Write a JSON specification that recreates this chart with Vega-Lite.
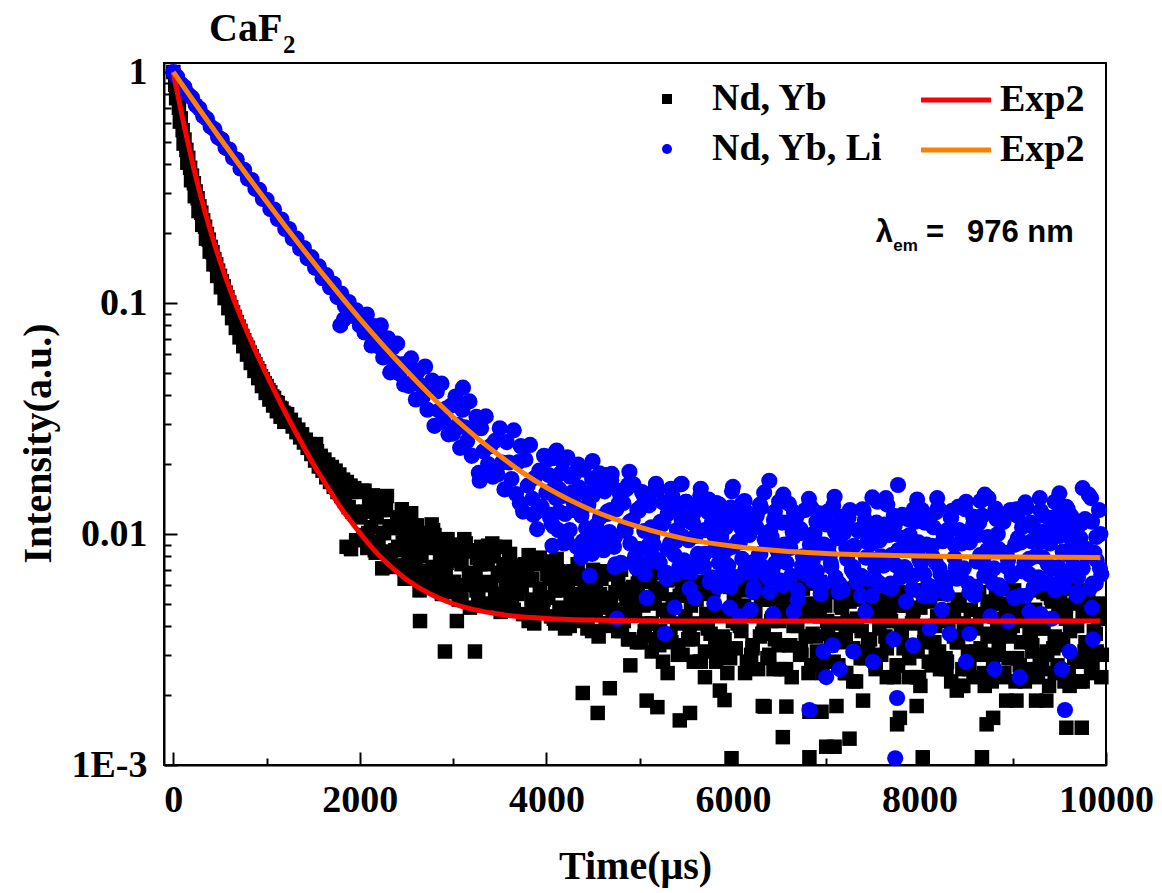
{
"$schema":"https://vega.github.io/schema/vega-lite/v6.json",
"width":942,"height":702,
"autosize":{"type":"none"},
"padding":{"left":164,"top":63,"right":56,"bottom":128},
"background":"white",
"config":{"view":{"stroke":"black","strokeWidth":2},
"axis":{"grid":false,"domainColor":"black","domainWidth":2,"tickColor":"black","tickWidth":2,"labelFont":"Liberation Serif","labelFontWeight":"bold","labelFontSize":38,"labelColor":"black","titleFont":"Liberation Serif","titleFontWeight":"bold","titleFontSize":40,"titleColor":"black"}},
"resolve":{"axis":{"x":"independent","y":"independent"}},
"datasets":{
"a":[{"t":0,"v":1},{"t":20,"v":0.88},{"t":40,"v":0.79},{"t":60,"v":0.7},{"t":80,"v":0.63},{"t":100,"v":0.56},{"t":120,"v":0.51},{"t":140,"v":0.46},{"t":160,"v":0.425},{"t":180,"v":0.385},{"t":200,"v":0.356},{"t":220,"v":0.33},{"t":240,"v":0.304},{"t":260,"v":0.284},{"t":280,"v":0.262},{"t":300,"v":0.246},{"t":320,"v":0.228},{"t":340,"v":0.214},{"t":360,"v":0.199},{"t":380,"v":0.188},{"t":400,"v":0.175},{"t":420,"v":0.166},{"t":440,"v":0.155},{"t":460,"v":0.147},{"t":480,"v":0.138},{"t":500,"v":0.131},{"t":520,"v":0.124},{"t":540,"v":0.118},{"t":560,"v":0.111},{"t":580,"v":0.106},{"t":600,"v":0.1005},{"t":620,"v":0.096},{"t":640,"v":0.091},{"t":660,"v":0.087},{"t":680,"v":0.0825},{"t":700,"v":0.079},{"t":720,"v":0.0757},{"t":740,"v":0.072},{"t":760,"v":0.069},{"t":780,"v":0.066},{"t":800,"v":0.064},{"t":820,"v":0.061},{"t":840,"v":0.0588},{"t":860,"v":0.0562},{"t":880,"v":0.0543},{"t":900,"v":0.0522},{"t":920,"v":0.0506},{"t":940,"v":0.0482},{"t":960,"v":0.0468},{"t":980,"v":0.0449},{"t":1000,"v":0.0437},{"t":1020,"v":0.042},{"t":1040,"v":0.041},{"t":1060,"v":0.0394},{"t":1080,"v":0.0388},{"t":1100,"v":0.0372},{"t":1120,"v":0.0369},{"t":1140,"v":0.0352},{"t":1160,"v":0.0349},{"t":1180,"v":0.0335},{"t":1200,"v":0.0331},
{"t":30,"v":0.77},{"t":70,"v":0.61},{"t":110,"v":0.49},{"t":150,"v":0.405},{"t":190,"v":0.34},{"t":230,"v":0.29},{"t":270,"v":0.25},{"t":310,"v":0.218},{"t":350,"v":0.19},{"t":390,"v":0.167},{"t":430,"v":0.147},{"t":470,"v":0.131},{"t":510,"v":0.117},{"t":550,"v":0.105},{"t":590,"v":0.095},{"t":630,"v":0.086},{"t":670,"v":0.078},{"t":710,"v":0.071},{"t":750,"v":0.065},{"t":790,"v":0.0598},{"t":830,"v":0.055},{"t":870,"v":0.0508},{"t":910,"v":0.0473},{"t":950,"v":0.0437},{"t":990,"v":0.0408},{"t":1030,"v":0.0382},{"t":1070,"v":0.036},{"t":1110,"v":0.034},{"t":1150,"v":0.0322},{"t":1190,"v":0.0306},
{"t":1220,"v":0.033},{"t":1240,"v":0.0308},{"t":1260,"v":0.0312},{"t":1280,"v":0.0292},{"t":1300,"v":0.0297},{"t":1320,"v":0.0276},{"t":1340,"v":0.0283},{"t":1360,"v":0.0262},{"t":1380,"v":0.027},{"t":1400,"v":0.0249},{"t":1420,"v":0.0256},{"t":1440,"v":0.0236},{"t":1460,"v":0.0245},{"t":1480,"v":0.0222},{"t":1500,"v":0.0236},{"t":1520,"v":0.0208},{"t":1540,"v":0.0228},{"t":1560,"v":0.0196},{"t":1580,"v":0.0218},{"t":1600,"v":0.0188},{"t":1620,"v":0.021},{"t":1640,"v":0.0176},{"t":1660,"v":0.02},{"t":1680,"v":0.0168},{"t":1700,"v":0.0195},{"t":1720,"v":0.016},{"t":1740,"v":0.0188},{"t":1760,"v":0.0152},{"t":1780,"v":0.0181},{"t":1800,"v":0.0146},{"t":1820,"v":0.0172},{"t":1840,"v":0.0139},{"t":1860,"v":0.0168},{"t":1880,"v":0.0131},{"t":1900,"v":0.0162},{"t":1920,"v":0.0125},{"t":1940,"v":0.0158},{"t":1960,"v":0.0121},{"t":1980,"v":0.0152},{"t":2000,"v":0.0118},{"t":1530,"v":0.0245},{"t":1858,"v":0.0088},{"t":1905,"v":0.0086},{"t":1960,"v":0.0094},
{"t":2020,"v":0.0154},{"t":2040,"v":0.0099},{"t":2060,"v":0.0125},{"t":2080,"v":0.0087},{"t":2100,"v":0.0136},{"t":2120,"v":0.0107},{"t":2140,"v":0.0147},{"t":2160,"v":0.0085},{"t":2180,"v":0.0118},{"t":2200,"v":0.0092},{"t":2220,"v":0.0127},{"t":2240,"v":0.0071},{"t":2260,"v":0.0101},{"t":2280,"v":0.0127},{"t":2300,"v":0.0083},{"t":2320,"v":0.0108},{"t":2340,"v":0.0072},{"t":2360,"v":0.0108},{"t":2380,"v":0.0085},{"t":2400,"v":0.0118},{"t":2420,"v":0.0113},{"t":2440,"v":0.0073},{"t":2460,"v":0.0092},{"t":2480,"v":0.0064},{"t":2500,"v":0.0101},{"t":2520,"v":0.0081},{"t":2540,"v":0.0112},{"t":2560,"v":0.0066},{"t":2580,"v":0.0091},{"t":2600,"v":0.0072},{"t":2620,"v":0.0099},{"t":2640,"v":0.0057},{"t":2660,"v":0.008},{"t":2680,"v":0.0101},{"t":2700,"v":0.0067},{"t":2720,"v":0.0087},{"t":2740,"v":0.0059},{"t":2760,"v":0.0089},{"t":2780,"v":0.007},{"t":2800,"v":0.0099},{"t":2820,"v":0.0094},{"t":2840,"v":0.0062},{"t":2860,"v":0.0078},{"t":2880,"v":0.0055},{"t":2900,"v":0.0086},{"t":2920,"v":0.0069},{"t":2940,"v":0.0095},{"t":2960,"v":0.0056},{"t":2980,"v":0.0078},{"t":3000,"v":0.0062},{"t":2645,"v":0.0042},{"t":2912,"v":0.0031},{"t":3040,"v":0.0042},{"t":3234,"v":0.0031},{"t":2550,"v":0.0123},{"t":3375,"v":0.0089},{"t":2785,"v":0.0104},
{"t":3030,"v":0.0085},{"t":3060,"v":0.0052},{"t":3090,"v":0.0074},{"t":3120,"v":0.0095},{"t":3150,"v":0.006},{"t":3180,"v":0.0048},{"t":3210,"v":0.0085},{"t":3240,"v":0.0067},{"t":3270,"v":0.0054},{"t":3300,"v":0.0088},{"t":3330,"v":0.0062},{"t":3360,"v":0.0074},{"t":3390,"v":0.005},{"t":3420,"v":0.0091},{"t":3450,"v":0.0054},{"t":3480,"v":0.0068},{"t":3510,"v":0.0046},{"t":3540,"v":0.0074},{"t":3570,"v":0.006},{"t":3600,"v":0.008},{"t":3630,"v":0.0049},{"t":3660,"v":0.0063},{"t":3690,"v":0.0055},{"t":3720,"v":0.0073},{"t":3750,"v":0.0045},{"t":3780,"v":0.0063},{"t":3810,"v":0.0081},{"t":3840,"v":0.0052},{"t":3870,"v":0.0041},{"t":3900,"v":0.0074},{"t":3930,"v":0.0058},{"t":3960,"v":0.0047},{"t":3990,"v":0.0076},{"t":4020,"v":0.0053},{"t":4050,"v":0.0064},{"t":4080,"v":0.0043},{"t":4110,"v":0.0078},{"t":4140,"v":0.0047},{"t":4170,"v":0.006},{"t":4200,"v":0.0039},{"t":4230,"v":0.0063},{"t":4260,"v":0.0052},{"t":4290,"v":0.0069},{"t":4320,"v":0.0042},{"t":4350,"v":0.0055},{"t":4380,"v":0.0047},{"t":4410,"v":0.0063},{"t":4440,"v":0.0039},{"t":4470,"v":0.0054},{"t":4500,"v":0.007},{"t":4530,"v":0.0045},{"t":4560,"v":0.0036},{"t":4590,"v":0.0064},{"t":4620,"v":0.005},{"t":4650,"v":0.0041},{"t":4680,"v":0.0067},{"t":4710,"v":0.0047},{"t":4740,"v":0.0056},{"t":4770,"v":0.0038},{"t":4800,"v":0.007},{"t":4830,"v":0.0042},{"t":4860,"v":0.0052},{"t":4890,"v":0.0035},{"t":4920,"v":0.0056},{"t":4950,"v":0.0046},{"t":4980,"v":0.0061},
{"t":5010,"v":0.0034},{"t":5040,"v":0.0049},{"t":5070,"v":0.0041},{"t":5100,"v":0.0062},{"t":5130,"v":0.0031},{"t":5160,"v":0.005},{"t":5190,"v":0.0068},{"t":5220,"v":0.0038},{"t":5250,"v":0.0028},{"t":5280,"v":0.0065},{"t":5310,"v":0.0045},{"t":5340,"v":0.0034},{"t":5370,"v":0.0064},{"t":5400,"v":0.0041},{"t":5430,"v":0.0054},{"t":5460,"v":0.003},{"t":5490,"v":0.0069},{"t":5520,"v":0.0035},{"t":5550,"v":0.0049},{"t":5580,"v":0.0028},{"t":5610,"v":0.0055},{"t":5640,"v":0.0041},{"t":5670,"v":0.0062},{"t":5700,"v":0.0031},{"t":5730,"v":0.0045},{"t":5760,"v":0.0037},{"t":5790,"v":0.0057},{"t":5820,"v":0.0028},{"t":5850,"v":0.0046},{"t":5880,"v":0.0064},{"t":5910,"v":0.0035},{"t":5940,"v":0.0025},{"t":5970,"v":0.0059},{"t":6000,"v":0.0042},{"t":6030,"v":0.0032},{"t":6060,"v":0.0061},{"t":6090,"v":0.0038},{"t":6120,"v":0.0049},{"t":6150,"v":0.0028},{"t":6180,"v":0.0063},{"t":6210,"v":0.0033},{"t":6240,"v":0.0046},{"t":6270,"v":0.0026},{"t":6300,"v":0.0052},{"t":6330,"v":0.0039},{"t":6360,"v":0.0059},{"t":6390,"v":0.003},{"t":6420,"v":0.0043},{"t":6450,"v":0.0035},{"t":6480,"v":0.0053},{"t":6510,"v":0.0026},{"t":6540,"v":0.0044},{"t":6570,"v":0.006},{"t":6600,"v":0.0033},{"t":6630,"v":0.0024},{"t":6660,"v":0.0057},{"t":6690,"v":0.004},{"t":6720,"v":0.003},{"t":6750,"v":0.0058},{"t":6780,"v":0.0036},{"t":6810,"v":0.0047},{"t":6840,"v":0.0027},{"t":6870,"v":0.0061},{"t":6900,"v":0.0031},{"t":6930,"v":0.0044},{"t":6960,"v":0.0025},{"t":6990,"v":0.0049},{"t":7020,"v":0.0037},{"t":7050,"v":0.0056},{"t":7080,"v":0.0028},{"t":7110,"v":0.0041},{"t":7140,"v":0.0034},{"t":7170,"v":0.0051},{"t":7200,"v":0.0025},{"t":7230,"v":0.0042},{"t":7260,"v":0.0058},{"t":7290,"v":0.0032},{"t":7320,"v":0.0023},{"t":7350,"v":0.0054},{"t":7380,"v":0.0038},{"t":7410,"v":0.0029},{"t":7440,"v":0.0056},{"t":7470,"v":0.0035},{"t":7500,"v":0.0046},{"t":7530,"v":0.0026},{"t":7560,"v":0.006},{"t":7590,"v":0.003},{"t":7620,"v":0.0043},{"t":7650,"v":0.0024},{"t":7680,"v":0.0047},{"t":7710,"v":0.0035},{"t":7740,"v":0.0053},{"t":7770,"v":0.0027},{"t":7800,"v":0.0039},{"t":7830,"v":0.0032},{"t":7860,"v":0.0049},{"t":7890,"v":0.0024},{"t":7920,"v":0.0041},{"t":7950,"v":0.0057},{"t":7980,"v":0.0031},{"t":8010,"v":0.0022},{"t":8040,"v":0.0052},{"t":8070,"v":0.0037},{"t":8100,"v":0.0028},{"t":8130,"v":0.0055},{"t":8160,"v":0.0034},{"t":8190,"v":0.0044},{"t":8220,"v":0.0026},{"t":8250,"v":0.0059},{"t":8280,"v":0.0029},{"t":8310,"v":0.0042},{"t":8340,"v":0.0023},{"t":8370,"v":0.0047},{"t":8400,"v":0.0034},{"t":8430,"v":0.0052},{"t":8460,"v":0.0026},{"t":8490,"v":0.0038},{"t":8520,"v":0.0031},{"t":8550,"v":0.0047},{"t":8580,"v":0.0024},{"t":8610,"v":0.0039},{"t":8640,"v":0.0056},{"t":8670,"v":0.003},{"t":8700,"v":0.0022},{"t":8730,"v":0.0051},{"t":8760,"v":0.0036},{"t":8790,"v":0.0027},{"t":8820,"v":0.0054},{"t":8850,"v":0.0033},{"t":8880,"v":0.0043},{"t":8910,"v":0.0025},{"t":8940,"v":0.0058},{"t":8970,"v":0.0029},{"t":9000,"v":0.004},{"t":9030,"v":0.0023},{"t":9060,"v":0.0045},{"t":9090,"v":0.0034},{"t":9120,"v":0.0052},{"t":9150,"v":0.0026},{"t":9180,"v":0.0038},{"t":9210,"v":0.0031},{"t":9240,"v":0.0047},{"t":9270,"v":0.0024},{"t":9300,"v":0.0039},{"t":9330,"v":0.0056},{"t":9360,"v":0.003},{"t":9390,"v":0.0022},{"t":9420,"v":0.0051},{"t":9450,"v":0.0036},{"t":9480,"v":0.0027},{"t":9510,"v":0.0054},{"t":9540,"v":0.0033},{"t":9570,"v":0.0043},{"t":9600,"v":0.0025},{"t":9630,"v":0.0058},{"t":9660,"v":0.0029},{"t":9690,"v":0.004},{"t":9720,"v":0.0023},{"t":9750,"v":0.0045},{"t":9780,"v":0.0034},{"t":9810,"v":0.0052},{"t":9840,"v":0.0026},{"t":9870,"v":0.0038},{"t":9900,"v":0.0031},{"t":9930,"v":0.0047},{"t":9950,"v":0.0024},
{"t":3015,"v":0.0077},{"t":3075,"v":0.0055},{"t":3135,"v":0.0091},{"t":3195,"v":0.0063},{"t":3255,"v":0.0079},{"t":3315,"v":0.0049},{"t":3435,"v":0.008},{"t":3495,"v":0.0055},{"t":3555,"v":0.0088},{"t":3615,"v":0.0051},{"t":3675,"v":0.0069},{"t":3735,"v":0.0058},{"t":3795,"v":0.0065},{"t":3855,"v":0.0047},{"t":3915,"v":0.0078},{"t":3975,"v":0.0053},{"t":4035,"v":0.0066},{"t":4095,"v":0.0041},{"t":4155,"v":0.0057},{"t":4215,"v":0.0068},{"t":4275,"v":0.0046},{"t":4335,"v":0.0074},{"t":4395,"v":0.0043},{"t":4455,"v":0.0059},{"t":4515,"v":0.0049},{"t":4575,"v":0.0055},{"t":4635,"v":0.004},{"t":4695,"v":0.0067},{"t":4755,"v":0.0045},{"t":4815,"v":0.0058},{"t":4875,"v":0.0035},{"t":4935,"v":0.005},{"t":4995,"v":0.0065},{"t":5055,"v":0.0038},{"t":5115,"v":0.0066},{"t":5175,"v":0.0035},{"t":5235,"v":0.0055},{"t":5295,"v":0.0044},{"t":5355,"v":0.0052},{"t":5415,"v":0.0033},{"t":5475,"v":0.0063},{"t":5535,"v":0.0039},{"t":5595,"v":0.0055},{"t":5655,"v":0.0028},{"t":5715,"v":0.0045},{"t":5775,"v":0.0059},{"t":5835,"v":0.0034},{"t":5895,"v":0.0066},{"t":5955,"v":0.0032},{"t":6015,"v":0.005},{"t":6075,"v":0.004},{"t":6135,"v":0.0047},{"t":6195,"v":0.003},{"t":6255,"v":0.006},{"t":6315,"v":0.0037},{"t":6375,"v":0.0052},{"t":6435,"v":0.0026},{"t":6495,"v":0.0042},{"t":6555,"v":0.0055},{"t":6615,"v":0.0033},{"t":6675,"v":0.0063},{"t":6735,"v":0.003},{"t":6795,"v":0.0047},{"t":6855,"v":0.0037},{"t":6915,"v":0.0045},{"t":6975,"v":0.0028},{"t":7035,"v":0.0059},{"t":7095,"v":0.0035},{"t":7155,"v":0.0049},{"t":7215,"v":0.0025},{"t":7275,"v":0.004},{"t":7335,"v":0.0052},{"t":7395,"v":0.0031},{"t":7455,"v":0.006},{"t":7515,"v":0.0029},{"t":7575,"v":0.0046},{"t":7635,"v":0.0036},{"t":7695,"v":0.0042},{"t":7755,"v":0.0027},{"t":7815,"v":0.0056},{"t":7875,"v":0.0033},{"t":7935,"v":0.0047},{"t":7995,"v":0.0024},{"t":8055,"v":0.0039},{"t":8115,"v":0.0051},{"t":8175,"v":0.003},{"t":8235,"v":0.0058},{"t":8295,"v":0.0028},{"t":8355,"v":0.0044},{"t":8415,"v":0.0034},{"t":8475,"v":0.0041},{"t":8535,"v":0.0026},{"t":8595,"v":0.0055},{"t":8655,"v":0.0032},{"t":8715,"v":0.0045},{"t":8775,"v":0.0023},{"t":8835,"v":0.0038},{"t":8895,"v":0.005},{"t":8955,"v":0.0029},{"t":9015,"v":0.0057},{"t":9075,"v":0.0027},{"t":9135,"v":0.0043},{"t":9195,"v":0.0034},{"t":9255,"v":0.0041},{"t":9315,"v":0.0026},{"t":9375,"v":0.0055},{"t":9435,"v":0.0032},{"t":9495,"v":0.0045},{"t":9555,"v":0.0023},{"t":9615,"v":0.0038},{"t":9675,"v":0.005},{"t":9735,"v":0.0029},{"t":9795,"v":0.0057},{"t":9855,"v":0.0027},{"t":9915,"v":0.0043},
{"t":2010,"v":0.0124},{"t":2050,"v":0.0154},{"t":2090,"v":0.0101},{"t":2130,"v":0.013},{"t":2170,"v":0.0083},{"t":2210,"v":0.0133},{"t":2250,"v":0.0101},{"t":2290,"v":0.0146},{"t":2330,"v":0.0084},{"t":2370,"v":0.0106},{"t":2410,"v":0.0088},{"t":2450,"v":0.0128},{"t":2490,"v":0.0073},{"t":2530,"v":0.0108},{"t":2570,"v":0.0089},{"t":2610,"v":0.0109},{"t":2650,"v":0.0061},{"t":2690,"v":0.0092},{"t":2730,"v":0.0069},{"t":2770,"v":0.011},{"t":2810,"v":0.0072},{"t":2850,"v":0.009},{"t":2890,"v":0.006},{"t":2930,"v":0.0075},{"t":2970,"v":0.009},{"t":3010,"v":0.0062},{"t":3050,"v":0.0077},{"t":3090,"v":0.0052},{"t":3130,"v":0.0084},{"t":3170,"v":0.0068},{"t":3210,"v":0.0085},{"t":3250,"v":0.0057},{"t":3290,"v":0.0074},{"t":3330,"v":0.0049},{"t":3370,"v":0.0078},{"t":3410,"v":0.006},{"t":3450,"v":0.0088},{"t":3490,"v":0.0051},{"t":3530,"v":0.0066},{"t":3570,"v":0.0055},{"t":3610,"v":0.0082},{"t":3650,"v":0.0047},{"t":3690,"v":0.0071},{"t":3730,"v":0.0059},{"t":3770,"v":0.0074},{"t":3810,"v":0.0042},{"t":3850,"v":0.0064},{"t":3890,"v":0.0049},{"t":3930,"v":0.0079},{"t":3970,"v":0.0052},{"t":4010,"v":0.0067},{"t":4050,"v":0.0044},{"t":4090,"v":0.0057},{"t":4130,"v":0.0069},{"t":4170,"v":0.0048},{"t":4210,"v":0.0059},{"t":4250,"v":0.004},{"t":4290,"v":0.0064},{"t":4330,"v":0.0053},{"t":4370,"v":0.0066},{"t":4410,"v":0.0044},{"t":4450,"v":0.0058},{"t":4490,"v":0.0038},{"t":4530,"v":0.0061},{"t":4570,"v":0.0048},{"t":4610,"v":0.0069},{"t":4650,"v":0.0041},{"t":4690,"v":0.0053},{"t":4730,"v":0.0044},{"t":4770,"v":0.0064},{"t":4810,"v":0.0038},{"t":4850,"v":0.0055},{"t":4890,"v":0.0047},{"t":4930,"v":0.0059},{"t":4970,"v":0.0034},{"t":5010,"v":0.0053},{"t":5050,"v":0.0036},{"t":5090,"v":0.0066},{"t":5130,"v":0.0041},{"t":5170,"v":0.0058},{"t":5210,"v":0.0033},{"t":5250,"v":0.0047},{"t":5290,"v":0.0063},{"t":5330,"v":0.0037},{"t":5370,"v":0.0052},{"t":5410,"v":0.003},{"t":5450,"v":0.0059},{"t":5490,"v":0.0044},{"t":5530,"v":0.0062},{"t":5570,"v":0.0035},{"t":5610,"v":0.0052},{"t":5650,"v":0.0028},{"t":5690,"v":0.0055},{"t":5730,"v":0.0039},{"t":5770,"v":0.0062},{"t":5810,"v":0.0032},{"t":5850,"v":0.0045},{"t":5890,"v":0.0036},{"t":5930,"v":0.0062},{"t":5970,"v":0.0029},{"t":6010,"v":0.0052},{"t":6050,"v":0.0041},{"t":6090,"v":0.0057},{"t":6130,"v":0.0025},{"t":6170,"v":0.0046},{"t":6210,"v":0.0032},{"t":6250,"v":0.0064},{"t":6290,"v":0.0036},{"t":6330,"v":0.0052},{"t":6370,"v":0.0029},{"t":6410,"v":0.0042},{"t":6450,"v":0.0055},{"t":6490,"v":0.0033},{"t":6530,"v":0.0046},{"t":6570,"v":0.0026},{"t":6610,"v":0.0053},{"t":6650,"v":0.004},{"t":6690,"v":0.0057},{"t":6730,"v":0.0032},{"t":6770,"v":0.0046},{"t":6810,"v":0.0025},{"t":6850,"v":0.005},{"t":6890,"v":0.0036},{"t":6930,"v":0.0062},{"t":6970,"v":0.0029},{"t":7010,"v":0.0042},{"t":7050,"v":0.0033},{"t":7090,"v":0.0058},{"t":7130,"v":0.0027},{"t":7170,"v":0.0048},{"t":7210,"v":0.0037},{"t":7250,"v":0.0051},{"t":7290,"v":0.0023},{"t":7330,"v":0.0043},{"t":7370,"v":0.0029},{"t":7410,"v":0.0059},{"t":7450,"v":0.0033},{"t":7490,"v":0.0048},{"t":7530,"v":0.0027},{"t":7570,"v":0.0039},{"t":7610,"v":0.0052},{"t":7650,"v":0.0032},{"t":7690,"v":0.0042},{"t":7730,"v":0.0024},{"t":7770,"v":0.0049},{"t":7810,"v":0.0037},{"t":7850,"v":0.0052},{"t":7890,"v":0.0029},{"t":7930,"v":0.0043},{"t":7970,"v":0.0024},{"t":8010,"v":0.0048},{"t":8050,"v":0.0034},{"t":8090,"v":0.0059},{"t":8130,"v":0.0027},{"t":8170,"v":0.004},{"t":8210,"v":0.0031},{"t":8250,"v":0.0055},{"t":8290,"v":0.0026},{"t":8330,"v":0.0046},{"t":8370,"v":0.0036},{"t":8410,"v":0.0049},{"t":8450,"v":0.0022},{"t":8490,"v":0.004},{"t":8530,"v":0.0028},{"t":8570,"v":0.0056},{"t":8610,"v":0.0031},{"t":8650,"v":0.0045},{"t":8690,"v":0.0025},{"t":8730,"v":0.0037},{"t":8770,"v":0.005},{"t":8810,"v":0.003},{"t":8850,"v":0.0041},{"t":8890,"v":0.0024},{"t":8930,"v":0.0047},{"t":8970,"v":0.0036},{"t":9010,"v":0.0051},{"t":9050,"v":0.0029},{"t":9090,"v":0.0042},{"t":9130,"v":0.0023},{"t":9170,"v":0.0046},{"t":9210,"v":0.0033},{"t":9250,"v":0.0057},{"t":9290,"v":0.0027},{"t":9330,"v":0.0039},{"t":9370,"v":0.0031},{"t":9410,"v":0.0053},{"t":9450,"v":0.0025},{"t":9490,"v":0.0044},{"t":9530,"v":0.0035},{"t":9570,"v":0.0049},{"t":9610,"v":0.0022},{"t":9650,"v":0.004},{"t":9690,"v":0.0028},{"t":9730,"v":0.0056},{"t":9770,"v":0.0031},{"t":9810,"v":0.0045},{"t":9850,"v":0.0025},{"t":9890,"v":0.0037},{"t":9930,"v":0.005},{"t":9955,"v":0.003},
{"t":4390,"v":0.00205},{"t":4550,"v":0.00168},{"t":4680,"v":0.00215},{"t":5075,"v":0.0019},{"t":5190,"v":0.00178},{"t":5430,"v":0.00156},{"t":5540,"v":0.00168},{"t":5910,"v":0.00191},{"t":5985,"v":0.00107},{"t":6340,"v":0.00179},{"t":6573,"v":0.00179},{"t":6535,"v":0.00132},{"t":6320,"v":0.0018},{"t":6820,"v":0.0017},{"t":6950,"v":0.0017},{"t":6820,"v":0.00108},{"t":7000,"v":0.0012},{"t":7090,"v":0.0012},{"t":7110,"v":0.0018},{"t":7395,"v":0.0019},{"t":7760,"v":0.0015},{"t":7790,"v":0.0016},{"t":7970,"v":0.0018},{"t":8035,"v":0.00108},{"t":8400,"v":0.0021},{"t":8470,"v":0.0022},{"t":8670,"v":0.00108},{"t":8720,"v":0.0015},{"t":8790,"v":0.0016},{"t":8930,"v":0.0019},{"t":9040,"v":0.0019},{"t":9250,"v":0.0019},{"t":9360,"v":0.0019},{"t":9575,"v":0.00145},{"t":9740,"v":0.00145},{"t":9610,"v":0.0023},{"t":9750,"v":0.0023},{"t":4900,"v":0.0027},{"t":5300,"v":0.0025},{"t":5700,"v":0.0024},{"t":7250,"v":0.0013},{"t":5860,"v":0.0021}],
"b":[{"t":0,"v":1},{"t":40,"v":0.955},{"t":80,"v":0.89},{"t":120,"v":0.86},{"t":160,"v":0.8},{"t":200,"v":0.775},{"t":240,"v":0.72},{"t":280,"v":0.695},{"t":320,"v":0.645},{"t":360,"v":0.627},{"t":400,"v":0.58},{"t":440,"v":0.565},{"t":480,"v":0.522},{"t":520,"v":0.51},{"t":560,"v":0.47},{"t":600,"v":0.462},{"t":640,"v":0.425},{"t":680,"v":0.418},{"t":720,"v":0.382},{"t":760,"v":0.377},{"t":800,"v":0.345},{"t":840,"v":0.341},{"t":880,"v":0.312},{"t":920,"v":0.309},{"t":960,"v":0.282},{"t":1000,"v":0.28},{"t":1040,"v":0.255},{"t":1080,"v":0.254},{"t":1120,"v":0.231},{"t":1160,"v":0.23},{"t":1200,"v":0.209},{"t":1240,"v":0.209},{"t":1280,"v":0.19},{"t":1320,"v":0.19},{"t":1360,"v":0.172},{"t":1400,"v":0.173},{"t":1440,"v":0.156},{"t":1480,"v":0.158},{"t":1520,"v":0.142},{"t":1560,"v":0.144},{"t":1600,"v":0.128},{"t":1640,"v":0.132},{"t":1680,"v":0.117},{"t":1720,"v":0.121},{"t":1760,"v":0.106},{"t":1800,"v":0.11},{"t":1840,"v":0.097},{"t":1880,"v":0.101},{"t":1920,"v":0.088},{"t":1960,"v":0.093},{"t":2000,"v":0.08},{"t":1790,"v":0.08},{"t":1830,"v":0.085},
{"t":2025,"v":0.0873},{"t":2050,"v":0.0745},{"t":2075,"v":0.0892},{"t":2100,"v":0.0755},{"t":2125,"v":0.0655},{"t":2150,"v":0.0795},{"t":2175,"v":0.0712},{"t":2200,"v":0.0649},{"t":2225,"v":0.08},{"t":2250,"v":0.0581},{"t":2275,"v":0.0665},{"t":2300,"v":0.0704},{"t":2325,"v":0.0501},{"t":2350,"v":0.064},{"t":2375,"v":0.0551},{"t":2400,"v":0.0667},{"t":2425,"v":0.0495},{"t":2450,"v":0.0543},{"t":2475,"v":0.0444},{"t":2500,"v":0.0546},{"t":2525,"v":0.0438},{"t":2550,"v":0.0576},{"t":2575,"v":0.0459},{"t":2600,"v":0.0382},{"t":2625,"v":0.0508},{"t":2650,"v":0.0441},{"t":2675,"v":0.0392},{"t":2700,"v":0.0531},{"t":2725,"v":0.0345},{"t":2750,"v":0.0421},{"t":2775,"v":0.0462},{"t":2800,"v":0.0294},{"t":2825,"v":0.0414},{"t":2850,"v":0.0342},{"t":2875,"v":0.0448},{"t":2900,"v":0.0304},{"t":2925,"v":0.0349},{"t":2950,"v":0.027},{"t":2975,"v":0.0359},{"t":3000,"v":0.0272},{"t":3025,"v":0.0394},{"t":3050,"v":0.0297},{"t":3075,"v":0.0236},{"t":3100,"v":0.0345},{"t":3125,"v":0.029},{"t":3150,"v":0.0252},{"t":3175,"v":0.0375},{"t":3200,"v":0.0218},{"t":3225,"v":0.0285},{"t":3250,"v":0.0322},{"t":3275,"v":0.0184},{"t":3300,"v":0.0287},{"t":3325,"v":0.0228},{"t":3350,"v":0.0323},{"t":3375,"v":0.0201},{"t":3400,"v":0.024},{"t":3425,"v":0.0177},{"t":3450,"v":0.0253},{"t":3475,"v":0.0181},{"t":3500,"v":0.0287},{"t":3525,"v":0.0204},{"t":3550,"v":0.0156},{"t":3575,"v":0.025},{"t":3600,"v":0.0204},{"t":3625,"v":0.0173},{"t":3650,"v":0.0281},{"t":3675,"v":0.0149},{"t":3700,"v":0.0205},{"t":3725,"v":0.024},{"t":3750,"v":0.0125},{"t":3775,"v":0.021},{"t":3800,"v":0.0162},{"t":3825,"v":0.0243},{"t":3850,"v":0.0142},{"t":3875,"v":0.0175},{"t":3900,"v":0.0125},{"t":3925,"v":0.0188},{"t":3950,"v":0.0131},{"t":3975,"v":0.0218},{"t":4000,"v":0.0151},
{"t":4025,"v":0.018},{"t":4050,"v":0.0121},{"t":4075,"v":0.0213},{"t":4100,"v":0.0143},{"t":4125,"v":0.0104},{"t":4150,"v":0.0183},{"t":4175,"v":0.0146},{"t":4200,"v":0.0122},{"t":4225,"v":0.0215},{"t":4250,"v":0.0104},{"t":4275,"v":0.0151},{"t":4300,"v":0.0182},{"t":4325,"v":0.0088},{"t":4350,"v":0.0159},{"t":4375,"v":0.012},{"t":4400,"v":0.019},{"t":4425,"v":0.0106},{"t":4450,"v":0.0134},{"t":4475,"v":0.0093},{"t":4500,"v":0.0147},{"t":4525,"v":0.0099},{"t":4550,"v":0.0176},{"t":4575,"v":0.0118},{"t":4600,"v":0.0087},{"t":4625,"v":0.0153},{"t":4650,"v":0.0122},{"t":4675,"v":0.0102},{"t":4700,"v":0.0182},{"t":4725,"v":0.0088},{"t":4750,"v":0.0128},{"t":4775,"v":0.0154},{"t":4800,"v":0.0075},{"t":4825,"v":0.0136},{"t":4850,"v":0.0103},{"t":4875,"v":0.0163},{"t":4900,"v":0.0091},{"t":4925,"v":0.0115},{"t":4950,"v":0.008},{"t":4975,"v":0.0127},{"t":5000,"v":0.0086},{"t":5025,"v":0.0152},{"t":5050,"v":0.0103},{"t":5075,"v":0.0075},{"t":5100,"v":0.0133},{"t":5125,"v":0.0107},{"t":5150,"v":0.009},{"t":5175,"v":0.016},{"t":5200,"v":0.0077},{"t":5225,"v":0.0113},{"t":5250,"v":0.0137},{"t":5275,"v":0.0066},{"t":5300,"v":0.0122},{"t":5325,"v":0.0091},{"t":5350,"v":0.0146},{"t":5375,"v":0.0081},{"t":5400,"v":0.0104},{"t":5425,"v":0.0072},{"t":5450,"v":0.0115},{"t":5475,"v":0.0077},{"t":5500,"v":0.0138},{"t":5525,"v":0.0094},{"t":5550,"v":0.0068},{"t":5575,"v":0.0122},{"t":5600,"v":0.0098},{"t":5625,"v":0.0082},{"t":5650,"v":0.0147},{"t":5675,"v":0.0072},{"t":5700,"v":0.0104},{"t":5725,"v":0.0127},{"t":5750,"v":0.0062},{"t":5775,"v":0.0112},{"t":5800,"v":0.0085},{"t":5825,"v":0.0136},{"t":5850,"v":0.0075},{"t":5875,"v":0.0097},{"t":5900,"v":0.0067},{"t":5925,"v":0.0107},{"t":5950,"v":0.0073},{"t":5975,"v":0.013},{"t":6000,"v":0.0088},{"t":6025,"v":0.0065},{"t":6050,"v":0.0115},{"t":6075,"v":0.0092},{"t":6100,"v":0.0078},{"t":6125,"v":0.0139},{"t":6150,"v":0.0068},{"t":6175,"v":0.0099},{"t":6200,"v":0.012},{"t":6225,"v":0.0059},{"t":6250,"v":0.0107},{"t":6275,"v":0.0081},{"t":6300,"v":0.013},{"t":6325,"v":0.0072},{"t":6350,"v":0.0093},{"t":6375,"v":0.0065},{"t":6400,"v":0.0103},{"t":6425,"v":0.007},{"t":6450,"v":0.0125},{"t":6475,"v":0.0085},{"t":6500,"v":0.0063},{"t":6525,"v":0.0112},{"t":6550,"v":0.009},{"t":6575,"v":0.0075},{"t":6600,"v":0.0135},{"t":6625,"v":0.0066},{"t":6650,"v":0.0097},{"t":6675,"v":0.0117},{"t":6700,"v":0.0057},{"t":6725,"v":0.0105},{"t":6750,"v":0.008},{"t":6775,"v":0.0127},{"t":6800,"v":0.0071},{"t":6825,"v":0.009},{"t":6850,"v":0.0063},{"t":6875,"v":0.0101},{"t":6900,"v":0.0069},{"t":6925,"v":0.0123},{"t":6950,"v":0.0083},{"t":6975,"v":0.0061},{"t":7000,"v":0.011},{"t":7025,"v":0.0088},{"t":7050,"v":0.0075},{"t":7075,"v":0.0133},{"t":7100,"v":0.0065},{"t":7125,"v":0.0096},{"t":7150,"v":0.0116},{"t":7175,"v":0.0057},{"t":7200,"v":0.0104},{"t":7225,"v":0.0078},{"t":7250,"v":0.0125},{"t":7275,"v":0.007},{"t":7300,"v":0.0089},{"t":7325,"v":0.0062},{"t":7350,"v":0.0103},{"t":7375,"v":0.0066},{"t":7400,"v":0.0126},{"t":7425,"v":0.0079},{"t":7450,"v":0.0064},{"t":7475,"v":0.0104},{"t":7500,"v":0.0091},{"t":7525,"v":0.0071},{"t":7550,"v":0.0138},{"t":7575,"v":0.0061},{"t":7600,"v":0.0098},{"t":7625,"v":0.011},{"t":7650,"v":0.0059},{"t":7675,"v":0.0099},{"t":7700,"v":0.0081},{"t":7725,"v":0.012},{"t":7750,"v":0.0073},{"t":7775,"v":0.0085},{"t":7800,"v":0.0065},{"t":7825,"v":0.0096},{"t":7850,"v":0.0071},{"t":7875,"v":0.0116},{"t":7900,"v":0.0086},{"t":7925,"v":0.0058},{"t":7950,"v":0.0113},{"t":7975,"v":0.0083},{"t":8000,"v":0.0077},{"t":8025,"v":0.0127},{"t":8050,"v":0.0067},{"t":8075,"v":0.009},{"t":8100,"v":0.012},{"t":8125,"v":0.0054},{"t":8150,"v":0.0107},{"t":8175,"v":0.0075},{"t":8200,"v":0.013},{"t":8225,"v":0.0067},{"t":8250,"v":0.0093},{"t":8275,"v":0.0059},{"t":8300,"v":0.0104},{"t":8325,"v":0.0065},{"t":8350,"v":0.0126},{"t":8375,"v":0.0079},{"t":8400,"v":0.0064},{"t":8425,"v":0.0104},{"t":8450,"v":0.0091},{"t":8475,"v":0.0071},{"t":8500,"v":0.0138},{"t":8525,"v":0.0061},{"t":8550,"v":0.0098},{"t":8575,"v":0.011},{"t":8600,"v":0.0059},{"t":8625,"v":0.0099},{"t":8650,"v":0.0081},{"t":8675,"v":0.012},{"t":8700,"v":0.0073},{"t":8725,"v":0.0085},{"t":8750,"v":0.0065},{"t":8775,"v":0.0096},{"t":8800,"v":0.0071},{"t":8825,"v":0.0116},{"t":8850,"v":0.0086},{"t":8875,"v":0.0058},{"t":8900,"v":0.0113},{"t":8925,"v":0.0083},{"t":8950,"v":0.0077},{"t":8975,"v":0.0127},{"t":9000,"v":0.0067},{"t":9025,"v":0.009},{"t":9050,"v":0.012},{"t":9075,"v":0.0054},{"t":9100,"v":0.0107},{"t":9125,"v":0.0075},{"t":9150,"v":0.013},{"t":9175,"v":0.0067},{"t":9200,"v":0.0093},{"t":9225,"v":0.0059},{"t":9250,"v":0.0104},{"t":9275,"v":0.0065},{"t":9300,"v":0.0126},{"t":9325,"v":0.0079},{"t":9350,"v":0.0064},{"t":9375,"v":0.0104},{"t":9400,"v":0.0091},{"t":9425,"v":0.0071},{"t":9450,"v":0.0138},{"t":9475,"v":0.0061},{"t":9500,"v":0.0098},{"t":9525,"v":0.011},{"t":9550,"v":0.0059},{"t":9575,"v":0.0099},{"t":9600,"v":0.0081},{"t":9625,"v":0.012},{"t":9650,"v":0.0073},{"t":9675,"v":0.0085},{"t":9700,"v":0.0065},{"t":9725,"v":0.0096},{"t":9750,"v":0.0071},{"t":9775,"v":0.0116},{"t":9800,"v":0.0086},{"t":9825,"v":0.0058},{"t":9850,"v":0.0113},{"t":9875,"v":0.0083},{"t":9900,"v":0.0077},{"t":9925,"v":0.0127},{"t":9950,"v":0.0067},
{"t":4040,"v":0.0118},{"t":4090,"v":0.0224},{"t":4140,"v":0.0156},{"t":4190,"v":0.0091},{"t":4240,"v":0.0181},{"t":4290,"v":0.0127},{"t":4340,"v":0.02},{"t":4390,"v":0.0093},{"t":4440,"v":0.015},{"t":4490,"v":0.0173},{"t":4540,"v":0.0104},{"t":4590,"v":0.0094},{"t":4640,"v":0.018},{"t":4690,"v":0.0127},{"t":4740,"v":0.0074},{"t":4790,"v":0.0149},{"t":4840,"v":0.0106},{"t":4890,"v":0.0186},{"t":4940,"v":0.0077},{"t":4990,"v":0.0126},{"t":5040,"v":0.0148},{"t":5090,"v":0.0089},{"t":5140,"v":0.008},{"t":5190,"v":0.0155},{"t":5240,"v":0.011},{"t":5290,"v":0.0064},{"t":5340,"v":0.0131},{"t":5390,"v":0.0093},{"t":5440,"v":0.0164},{"t":5490,"v":0.0069},{"t":5540,"v":0.0113},{"t":5590,"v":0.0133},{"t":5640,"v":0.008},{"t":5690,"v":0.0073},{"t":5740,"v":0.0141},{"t":5790,"v":0.01},{"t":5840,"v":0.0059},{"t":5890,"v":0.0121},{"t":5940,"v":0.0086},{"t":5990,"v":0.0153},{"t":6040,"v":0.0065},{"t":6090,"v":0.0106},{"t":6140,"v":0.0125},{"t":6190,"v":0.0075},{"t":6240,"v":0.0069},{"t":6290,"v":0.0134},{"t":6340,"v":0.0095},{"t":6390,"v":0.0056},{"t":6440,"v":0.0115},{"t":6490,"v":0.0083},{"t":6540,"v":0.0148},{"t":6590,"v":0.0062},{"t":6640,"v":0.0102},{"t":6690,"v":0.0121},{"t":6740,"v":0.0073},{"t":6790,"v":0.0067},{"t":6840,"v":0.013},{"t":6890,"v":0.0093},{"t":6940,"v":0.0055},{"t":6990,"v":0.0113},{"t":7040,"v":0.0081},{"t":7090,"v":0.0145},{"t":7140,"v":0.0061},{"t":7190,"v":0.0101},{"t":7240,"v":0.0118},{"t":7290,"v":0.0072},{"t":7340,"v":0.0066},{"t":7390,"v":0.0128},{"t":7440,"v":0.0092},{"t":7490,"v":0.0054},{"t":7540,"v":0.0112},{"t":7590,"v":0.008},{"t":7640,"v":0.0143},{"t":7690,"v":0.0061},{"t":7740,"v":0.01},{"t":7790,"v":0.0118},{"t":7840,"v":0.0072},{"t":7890,"v":0.0066},{"t":7940,"v":0.0128},{"t":7990,"v":0.0092},{"t":8040,"v":0.0054},{"t":8090,"v":0.0112},{"t":8140,"v":0.008},{"t":8190,"v":0.0143},{"t":8240,"v":0.0061},{"t":8290,"v":0.01},{"t":8340,"v":0.0118},{"t":8390,"v":0.0072},{"t":8440,"v":0.0066},{"t":8490,"v":0.0128},{"t":8540,"v":0.0092},{"t":8590,"v":0.0054},{"t":8640,"v":0.0112},{"t":8690,"v":0.008},{"t":8740,"v":0.0143},{"t":8790,"v":0.0061},{"t":8840,"v":0.01},{"t":8890,"v":0.0118},{"t":8940,"v":0.0072},{"t":8990,"v":0.0066},{"t":9040,"v":0.0128},{"t":9090,"v":0.0092},{"t":9140,"v":0.0054},{"t":9190,"v":0.0112},{"t":9240,"v":0.008},{"t":9290,"v":0.0143},{"t":9340,"v":0.0061},{"t":9390,"v":0.01},{"t":9440,"v":0.0118},{"t":9490,"v":0.0072},{"t":9540,"v":0.0066},{"t":9590,"v":0.0128},{"t":9640,"v":0.0092},{"t":9690,"v":0.0054},{"t":9740,"v":0.0112},{"t":9790,"v":0.008},{"t":9840,"v":0.0143},{"t":9890,"v":0.0061},{"t":9940,"v":0.01},
{"t":4015,"v":0.021},{"t":4055,"v":0.0111},{"t":4095,"v":0.0164},{"t":4135,"v":0.0125},{"t":4175,"v":0.0205},{"t":4215,"v":0.0095},{"t":4255,"v":0.0177},{"t":4295,"v":0.0135},{"t":4335,"v":0.0189},{"t":4375,"v":0.0079},{"t":4415,"v":0.015},{"t":4455,"v":0.0098},{"t":4495,"v":0.0207},{"t":4535,"v":0.0109},{"t":4575,"v":0.0161},{"t":4615,"v":0.0085},{"t":4655,"v":0.0125},{"t":4695,"v":0.0171},{"t":4735,"v":0.0097},{"t":4775,"v":0.0136},{"t":4815,"v":0.0074},{"t":4855,"v":0.0156},{"t":4895,"v":0.0113},{"t":4935,"v":0.0164},{"t":4975,"v":0.0086},{"t":5015,"v":0.0131},{"t":5055,"v":0.0067},{"t":5095,"v":0.0143},{"t":5135,"v":0.0097},{"t":5175,"v":0.0165},{"t":5215,"v":0.0075},{"t":5255,"v":0.0112},{"t":5295,"v":0.0086},{"t":5335,"v":0.0157},{"t":5375,"v":0.0067},{"t":5415,"v":0.0127},{"t":5455,"v":0.0098},{"t":5495,"v":0.0138},{"t":5535,"v":0.0058},{"t":5575,"v":0.0111},{"t":5615,"v":0.0074},{"t":5655,"v":0.0157},{"t":5695,"v":0.0082},{"t":5735,"v":0.0124},{"t":5775,"v":0.0065},{"t":5815,"v":0.0097},{"t":5855,"v":0.0134},{"t":5895,"v":0.0077},{"t":5935,"v":0.0109},{"t":5975,"v":0.0059},{"t":6015,"v":0.0126},{"t":6055,"v":0.0093},{"t":6095,"v":0.0135},{"t":6135,"v":0.0071},{"t":6175,"v":0.011},{"t":6215,"v":0.0056},{"t":6255,"v":0.012},{"t":6295,"v":0.0082},{"t":6335,"v":0.0151},{"t":6375,"v":0.0065},{"t":6415,"v":0.0097},{"t":6455,"v":0.0075},{"t":6495,"v":0.0138},{"t":6535,"v":0.006},{"t":6575,"v":0.0112},{"t":6615,"v":0.0087},{"t":6655,"v":0.0124},{"t":6695,"v":0.0052},{"t":6735,"v":0.0101},{"t":6775,"v":0.0067},{"t":6815,"v":0.0142},{"t":6855,"v":0.0076},{"t":6895,"v":0.0113},{"t":6935,"v":0.006},{"t":6975,"v":0.009},{"t":7015,"v":0.0125},{"t":7055,"v":0.0072},{"t":7095,"v":0.0102},{"t":7135,"v":0.0056},{"t":7175,"v":0.0119},{"t":7215,"v":0.0087},{"t":7255,"v":0.0127},{"t":7295,"v":0.0068},{"t":7335,"v":0.0104},{"t":7375,"v":0.0054},{"t":7415,"v":0.0115},{"t":7455,"v":0.0079},{"t":7495,"v":0.0144},{"t":7535,"v":0.0063},{"t":7575,"v":0.0094},{"t":7615,"v":0.0073},{"t":7655,"v":0.0134},{"t":7695,"v":0.0058},{"t":7735,"v":0.0109},{"t":7775,"v":0.0085},{"t":7815,"v":0.0121},{"t":7855,"v":0.0051},{"t":7895,"v":0.0099},{"t":7935,"v":0.0066},{"t":7975,"v":0.0141},{"t":8015,"v":0.0075},{"t":8055,"v":0.0112},{"t":8095,"v":0.006},{"t":8135,"v":0.0089},{"t":8175,"v":0.0124},{"t":8215,"v":0.0071},{"t":8255,"v":0.0101},{"t":8295,"v":0.0055},{"t":8335,"v":0.0118},{"t":8375,"v":0.009},{"t":8415,"v":0.0131},{"t":8455,"v":0.007},{"t":8495,"v":0.0101},{"t":8535,"v":0.0056},{"t":8575,"v":0.0119},{"t":8615,"v":0.0076},{"t":8655,"v":0.0139},{"t":8695,"v":0.0066},{"t":8735,"v":0.0097},{"t":8775,"v":0.007},{"t":8815,"v":0.0129},{"t":8855,"v":0.006},{"t":8895,"v":0.0113},{"t":8935,"v":0.0082},{"t":8975,"v":0.0125},{"t":9015,"v":0.0053},{"t":9055,"v":0.0096},{"t":9095,"v":0.0069},{"t":9135,"v":0.0137},{"t":9175,"v":0.0078},{"t":9215,"v":0.0108},{"t":9255,"v":0.0062},{"t":9295,"v":0.0092},{"t":9335,"v":0.012},{"t":9375,"v":0.0074},{"t":9415,"v":0.0098},{"t":9455,"v":0.0057},{"t":9495,"v":0.0122},{"t":9535,"v":0.0084},{"t":9575,"v":0.0131},{"t":9615,"v":0.0066},{"t":9655,"v":0.0107},{"t":9695,"v":0.0056},{"t":9735,"v":0.0111},{"t":9775,"v":0.0082},{"t":9815,"v":0.0148},{"t":9855,"v":0.0061},{"t":9895,"v":0.0097},{"t":9935,"v":0.0071},
{"t":6820,"v":0.00173},{"t":7760,"v":0.00195},{"t":7740,"v":0.00107},{"t":9560,"v":0.00173},{"t":7000,"v":0.0024},{"t":7145,"v":0.0026},{"t":7500,"v":0.0028},{"t":8805,"v":0.0026},{"t":9075,"v":0.0024},{"t":9525,"v":0.0026},{"t":8500,"v":0.0028},{"t":7930,"v":0.0033},{"t":6970,"v":0.0031},{"t":7070,"v":0.0033},{"t":7290,"v":0.0031},{"t":9860,"v":0.0035},{"t":9610,"v":0.0031},{"t":8325,"v":0.0037},{"t":8535,"v":0.0037},{"t":7720,"v":0.0035},{"t":8110,"v":0.0039},{"t":5270,"v":0.0037},{"t":4755,"v":0.0043},{"t":5375,"v":0.0048},{"t":5075,"v":0.0053},{"t":5590,"v":0.0053},{"t":6430,"v":0.0045},{"t":6075,"v":0.0044},{"t":5965,"v":0.0048},{"t":4465,"v":0.0066},{"t":4730,"v":0.0072},{"t":4965,"v":0.0071},{"t":5285,"v":0.0068},{"t":6390,"v":0.017},{"t":9750,"v":0.0158},{"t":7420,"v":0.0046},{"t":8240,"v":0.0047},{"t":8760,"v":0.0044},{"t":9180,"v":0.0046},{"t":9420,"v":0.0043},{"t":6650,"v":0.0046},{"t":6190,"v":0.0047},{"t":5800,"v":0.005},{"t":8950,"v":0.0042},{"t":9300,"v":0.0045},{"t":9850,"v":0.0048},{"t":3105,"v":0.043},{"t":3285,"v":0.017},{"t":3715,"v":0.0136},{"t":3860,"v":0.0121},{"t":4075,"v":0.0108},{"t":3900,"v":0.0105},{"t":4065,"v":0.0089},{"t":4205,"v":0.0095},{"t":4110,"v":0.023},{"t":4425,"v":0.009},{"t":4490,"v":0.0082},{"t":4570,"v":0.0183},{"t":7770,"v":0.0163},{"t":8700,"v":0.0148},{"t":9500,"v":0.015},{"t":6000,"v":0.016},{"t":5450,"v":0.0165}],
"r":[{"t":0,"v":1},{"t":25,"v":0.8874},{"t":50,"v":0.7893},{"t":75,"v":0.7039},{"t":100,"v":0.6295},{"t":125,"v":0.5644},{"t":150,"v":0.5076},{"t":175,"v":0.4577},{"t":200,"v":0.4139},{"t":225,"v":0.3753},{"t":250,"v":0.3414},{"t":275,"v":0.3113},{"t":300,"v":0.2847},{"t":350,"v":0.24},{"t":400,"v":0.2044},{"t":450,"v":0.1756},{"t":500,"v":0.1522},{"t":550,"v":0.1329},{"t":600,"v":0.1169},{"t":650,"v":0.1033},{"t":700,"v":0.0919},{"t":750,"v":0.082},{"t":800,"v":0.0735},{"t":850,"v":0.0661},{"t":900,"v":0.0596},{"t":950,"v":0.0539},{"t":1000,"v":0.0489},{"t":1100,"v":0.0404},{"t":1200,"v":0.0336},{"t":1300,"v":0.0282},{"t":1400,"v":0.0238},{"t":1500,"v":0.0201},{"t":1600,"v":0.0173},{"t":1700,"v":0.0149},{"t":1800,"v":0.0129},{"t":1900,"v":0.0114},{"t":2000,"v":0.0101},{"t":2250,"v":0.00775},{"t":2500,"v":0.00636},{"t":2750,"v":0.00551},{"t":3000,"v":0.00499},{"t":3500,"v":0.00449},{"t":4000,"v":0.00431},{"t":4500,"v":0.00424},{"t":5000,"v":0.00421},{"t":6000,"v":0.0042},{"t":7000,"v":0.0042},{"t":8000,"v":0.0042},{"t":9000,"v":0.0042},{"t":9940,"v":0.0042}],
"o":[{"t":0,"v":1},{"t":100,"v":0.875},{"t":200,"v":0.766},{"t":300,"v":0.6715},{"t":400,"v":0.589},{"t":500,"v":0.517},{"t":600,"v":0.455},{"t":800,"v":0.3526},{"t":1000,"v":0.2748},{"t":1200,"v":0.215},{"t":1400,"v":0.1692},{"t":1600,"v":0.1339},{"t":1800,"v":0.1066},{"t":2000,"v":0.0854},{"t":2250,"v":0.0655},{"t":2500,"v":0.0509},{"t":2750,"v":0.0401},{"t":3000,"v":0.0321},{"t":3250,"v":0.0262},{"t":3500,"v":0.0218},{"t":3750,"v":0.0184},{"t":4000,"v":0.0159},{"t":4500,"v":0.0126},{"t":5000,"v":0.0107},{"t":5500,"v":0.0095},{"t":6000,"v":0.00886},{"t":6500,"v":0.00846},{"t":7000,"v":0.00824},{"t":7500,"v":0.00811},{"t":8000,"v":0.00803},{"t":8500,"v":0.00798},{"t":9000,"v":0.00795},{"t":9500,"v":0.00793},{"t":9940,"v":0.0079}]
},
"layer":[
{"data":{"name":"a"},"mark":{"type":"point","filled":true,"size":210,"opacity":1,"strokeWidth":0},
"encoding":{
"x":{"field":"t","type":"quantitative","scale":{"domain":[-100,10000],"nice":false,"zero":false},"axis":{"orient":"bottom","values":[0,2000,4000,6000,8000,10000],"format":"d","tickSize":-13,"labelPadding":29,"labelFlush":false,"labelOverlap":false,"title":"Time(μs)","titleY":113,"titleBaseline":"alphabetic"}},
"y":{"field":"v","type":"quantitative","scale":{"type":"log","domain":[0.001,1.094],"nice":false},"axis":{"orient":"left","values":[0.001,0.01,0.1,1],"labelExpr":"datum.value < 0.005 ? '1E-3' : datum.value < 0.05 ? '0.01' : datum.value < 0.5 ? '0.1' : '1'","tickSize":-13,"labelPadding":30,"labelFlush":false,"labelOverlap":false,"title":"Intensity(a.u.)","titleX":-114,"titleY":380,"titleAngle":-90,"titleBaseline":"alphabetic","titleAlign":"center"}},
"color":{"datum":"Nd, Yb","type":"nominal","scale":{"domain":["Nd, Yb","Nd, Yb, Li"],"range":["#000000","#0000ff"]},"legend":{"orient":"none","legendX":484,"legendY":17,"title":null,"labelOffset":26,"labelLimit":0,"symbolSize":100,"rowPadding":12,"padding":0,"labelFont":"Liberation Serif","labelFontWeight":"bold","labelFontSize":38,"labelColor":"black","symbolStrokeWidth":0}},
"shape":{"datum":"Nd, Yb","type":"nominal","scale":{"domain":["Nd, Yb","Nd, Yb, Li"],"range":["square","circle"]}}}},
{"data":{"name":"b"},"mark":{"type":"point","filled":true,"size":260,"opacity":1,"strokeWidth":0},
"encoding":{
"x":{"field":"t","type":"quantitative","axis":{"orient":"bottom","values":[1000,3000,5000,7000,9000],"labels":false,"tickSize":-7,"domain":false,"title":null}},
"y":{"field":"v","type":"quantitative","axis":{"orient":"left","values":[0.002,0.003,0.004,0.005,0.006,0.007,0.008,0.009,0.02,0.03,0.04,0.05,0.06,0.07,0.08,0.09,0.2,0.3,0.4,0.5,0.6,0.7,0.8,0.9],"labels":false,"tickSize":-7,"domain":false,"title":null}},
"color":{"datum":"Nd, Yb, Li","type":"nominal"},
"shape":{"datum":"Nd, Yb, Li","type":"nominal"}}},
{"data":{"name":"r"},"mark":{"type":"line","strokeWidth":5,"interpolate":"monotone"},
"encoding":{"x":{"field":"t","type":"quantitative","axis":null},"y":{"field":"v","type":"quantitative","axis":null},
"stroke":{"datum":"r","type":"nominal","scale":{"domain":["r","o"],"range":["#ff0000","#ff8000"]},"legend":{"orient":"none","legendX":773,"legendY":18,"title":null,"symbolType":"M-7,0H7","symbolSize":100,"symbolStrokeWidth":5,"labelExpr":"'Exp2'","labelOffset":25,"labelLimit":0,"rowPadding":12,"padding":0,"labelFont":"Liberation Serif","labelFontWeight":"bold","labelFontSize":38,"labelColor":"black"}}}},
{"data":{"name":"o"},"mark":{"type":"line","strokeWidth":5,"interpolate":"monotone"},
"encoding":{"x":{"field":"t","type":"quantitative","axis":null},"y":{"field":"v","type":"quantitative","axis":null},
"stroke":{"datum":"o","type":"nominal"}}},
{"data":{"values":[{}]},"mark":{"type":"text","text":"CaF","font":"Liberation Serif","fontWeight":"bold","fontSize":40,"align":"left","baseline":"alphabetic","color":"black"},
"encoding":{"x":{"datum":383,"type":"quantitative","axis":null},"y":{"datum":1.36,"type":"quantitative","axis":null}}},
{"data":{"values":[{}]},"mark":{"type":"text","text":"2","font":"Liberation Serif","fontWeight":"bold","fontSize":25,"align":"left","baseline":"alphabetic","color":"black"},
"encoding":{"x":{"datum":1175,"type":"quantitative","axis":null},"y":{"datum":1.21,"type":"quantitative","axis":null}}},
{"data":{"values":[{}]},"mark":{"type":"text","text":"λ","font":"Liberation Sans","fontWeight":"bold","fontSize":31,"align":"left","baseline":"alphabetic","color":"black"},
"encoding":{"x":{"datum":7530,"type":"quantitative","axis":null},"y":{"datum":0.184,"type":"quantitative","axis":null}}},
{"data":{"values":[{}]},"mark":{"type":"text","text":"em","font":"Liberation Sans","fontWeight":"bold","fontSize":17,"align":"left","baseline":"alphabetic","color":"black"},
"encoding":{"x":{"datum":7720,"type":"quantitative","axis":null},"y":{"datum":0.168,"type":"quantitative","axis":null}}},
{"data":{"values":[{}]},"mark":{"type":"text","text":"=","font":"Liberation Sans","fontWeight":"bold","fontSize":31,"align":"left","baseline":"alphabetic","color":"black"},
"encoding":{"x":{"datum":8070,"type":"quantitative","axis":null},"y":{"datum":0.184,"type":"quantitative","axis":null}}},
{"data":{"values":[{}]},"mark":{"type":"text","text":"976 nm","font":"Liberation Sans","fontWeight":"bold","fontSize":31,"align":"left","baseline":"alphabetic","color":"black"},
"encoding":{"x":{"datum":8510,"type":"quantitative","axis":null},"y":{"datum":0.184,"type":"quantitative","axis":null}}}
]
}
